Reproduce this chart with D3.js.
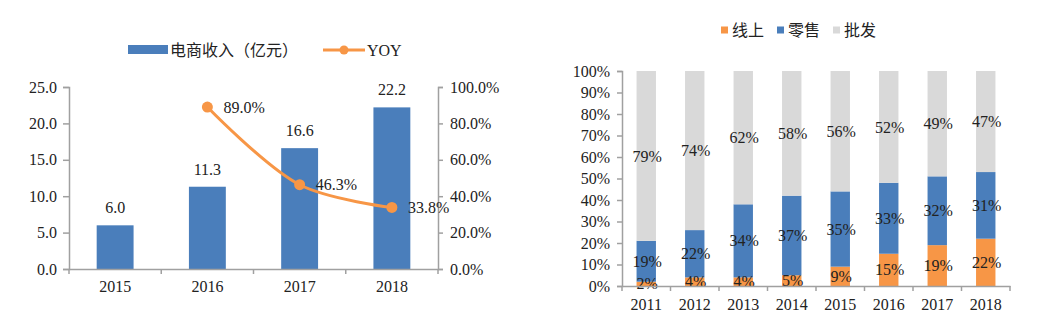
<!DOCTYPE html>
<html><head><meta charset="utf-8">
<script src="https://cdn.jsdelivr.net/npm/d3@7"></script>
<style>
body{margin:0;background:#fff;}
svg{display:block;}
.num{font-family:"Liberation Serif","Times New Roman",serif;font-size:16px;fill:#222;}
.cjk{font-family:"Noto Sans CJK SC",sans-serif;font-size:16px;fill:#222;}
</style></head>
<body>
<svg id="c" width="1042" height="333"></svg>
<script>
// Left chart data
const years1 = ["2015","2016","2017","2018"];
const revenue = [6.0, 11.3, 16.6, 22.2];
const yoyYears = ["2016","2017","2018"];
const yoy = [0.890, 0.463, 0.338];
const leftTicks = [0,5,10,15,20,25];
const rightTicks = [0,0.2,0.4,0.6,0.8,1.0];
// Right chart data
const years2 = ["2011","2012","2013","2014","2015","2016","2017","2018"];
const online = [2,4,4,5,9,15,19,22];
const retail = [19,22,34,37,35,33,32,31];
const wholesale = [79,74,62,58,56,52,49,47];
const pctTicks = [0,10,20,30,40,50,60,70,80,90,100];

const BLUE="#4A7EBB", ORANGE="#F79646", GRAY="#D9D9D9", AX="#A0A0A0";
const svg = d3.select("#c");

// ---------- Left chart ----------
const L = {x0:69, x1:438, y0:269, y1:87};
const x1 = d3.scaleBand().domain(years1).range([L.x0,L.x1]).paddingInner(0.6).paddingOuter(0.3);
const xb1 = d3.scaleBand().domain(years1).range([L.x0,L.x1]);
const yL = d3.scaleLinear().domain([0,25]).range([L.y0,L.y1]);
const yR = d3.scaleLinear().domain([0,1]).range([L.y0,L.y1]);
const g1 = svg.append("g");

g1.selectAll("rect.bar").data(revenue).join("rect")
  .attr("x",(d,i)=>x1(years1[i])).attr("width",x1.bandwidth())
  .attr("y",d=>yL(d)).attr("height",d=>yL(0)-yL(d)).attr("fill",BLUE);
g1.selectAll("text.bl").data(revenue).join("text").attr("class","num")
  .attr("x",(d,i)=>xb1(years1[i])+xb1.bandwidth()/2).attr("y",d=>yL(d)-12)
  .attr("text-anchor","middle").text(d=>d3.format(".1f")(d));

// axes
const axL = g1.append("g").attr("transform",`translate(${L.x0},0)`)
  .call(d3.axisLeft(yL).tickValues(leftTicks).tickFormat(d3.format(".1f")).tickSize(6).tickPadding(6));
const axR = g1.append("g").attr("transform",`translate(${L.x1},0)`)
  .call(d3.axisRight(yR).tickValues(rightTicks).tickFormat(d3.format(".1%")).tickSize(5).tickPadding(7));
const axX = g1.append("g").attr("transform",`translate(0,${L.y0})`)
  .call(d3.axisBottom(xb1).tickSize(0).tickPadding(12));
// boundary ticks
g1.selectAll("line.xt").data(d3.range(years1.length+1)).join("line")
  .attr("x1",i=>L.x0+i*xb1.bandwidth()).attr("x2",i=>L.x0+i*xb1.bandwidth())
  .attr("y1",L.y0).attr("y2",L.y0+5).attr("stroke",AX).attr("stroke-width",1.5);

// YOY line
const line = d3.line().x((d,i)=>xb1(yoyYears[i])+xb1.bandwidth()/2).y(d=>yR(d)).curve(d3.curveCatmullRom.alpha(0.5));
g1.append("path").datum(yoy).attr("d",line).attr("fill","none").attr("stroke",ORANGE).attr("stroke-width",3);
g1.selectAll("circle.p").data(yoy).join("circle")
  .attr("cx",(d,i)=>xb1(yoyYears[i])+xb1.bandwidth()/2).attr("cy",d=>yR(d)).attr("r",5.5).attr("fill",ORANGE);
g1.selectAll("text.yl").data(yoy).join("text").attr("class","num")
  .attr("x",(d,i)=>xb1(yoyYears[i])+xb1.bandwidth()/2+16).attr("y",d=>yR(d)).attr("dy","0.35em")
  .text(d=>d3.format(".1%")(d));

// Left legend
const lg1 = svg.append("g");
lg1.append("rect").attr("x",128).attr("y",45).attr("width",40).attr("height",9).attr("fill",BLUE);
lg1.append("text").attr("class","cjk").attr("x",170).attr("y",50).attr("dy","0.35em").text("电商收入（亿元）");
lg1.append("line").attr("x1",323).attr("x2",365).attr("y1",50).attr("y2",50).attr("stroke",ORANGE).attr("stroke-width",3);
lg1.append("circle").attr("cx",344).attr("cy",50).attr("r",4.5).attr("fill",ORANGE);
lg1.append("text").attr("class","num").attr("x",367).attr("y",50).attr("dy","0.35em").text("YOY");

// ---------- Right chart ----------
const R = {x0:622, x1:1010, y0:286, y1:71};
const xb2 = d3.scaleBand().domain(years2).range([R.x0,R.x1]);
const x2 = d3.scaleBand().domain(years2).range([R.x0,R.x1]).paddingInner(0.6).paddingOuter(0.3);
const yP = d3.scaleLinear().domain([0,100]).range([R.y0,R.y1]);
const g2 = svg.append("g");
const series = [{k:"线上",v:online,c:ORANGE},{k:"零售",v:retail,c:BLUE},{k:"批发",v:wholesale,c:GRAY}];
years2.forEach((yr,i)=>{
  let base=0;
  series.forEach(s=>{
    const v=s.v[i];
    g2.append("rect").attr("x",x2(yr)).attr("width",x2.bandwidth())
      .attr("y",yP(base+v)).attr("height",yP(base)-yP(base+v)).attr("fill",s.c);
    base+=v;
  });
});
years2.forEach((yr,i)=>{
  let base=0;
  series.forEach(s=>{
    const v=s.v[i];
    g2.append("text").attr("class","num").attr("x",xb2(yr)+xb2.bandwidth()/2+1)
      .attr("y",yP(base+v/2)).attr("dy","0.35em").attr("text-anchor","middle").text(v+"%");
    base+=v;
  });
});
g2.append("g").attr("transform",`translate(${R.x0},0)`)
  .call(d3.axisLeft(yP).tickValues(pctTicks).tickFormat(d=>d+"%").tickSize(5).tickPadding(7));
g2.append("g").attr("transform",`translate(0,${R.y0})`)
  .call(d3.axisBottom(xb2).tickSize(0).tickPadding(13));
g2.selectAll("line.xt").data(d3.range(years2.length+1)).join("line")
  .attr("x1",i=>R.x0+i*xb2.bandwidth()).attr("x2",i=>R.x0+i*xb2.bandwidth())
  .attr("y1",R.y0).attr("y2",R.y0+5).attr("stroke",AX).attr("stroke-width",1.5);

// Right legend
const lg2 = svg.append("g");
const legX=[721,777,833];
series.forEach((s,i)=>{
  lg2.append("rect").attr("x",legX[i]).attr("y",26.5).attr("width",7).attr("height",7).attr("fill",s.c);
  lg2.append("text").attr("class","cjk").attr("x",legX[i]+11).attr("y",30).attr("dy","0.35em").text(s.k);
});

// style axes
svg.selectAll(".domain").attr("stroke",AX).attr("stroke-width",1.5);
svg.selectAll(".tick line").attr("stroke",AX).attr("stroke-width",1.5);
svg.selectAll(".tick text").attr("class","num").attr("fill","#222").style("font-size","16px");
</script>
</body></html>
